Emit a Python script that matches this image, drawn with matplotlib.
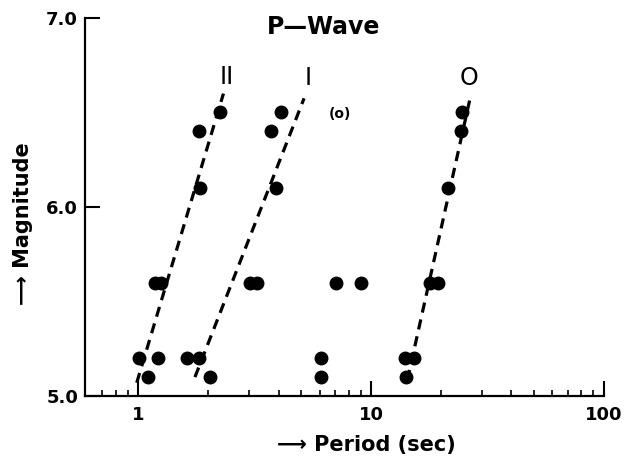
import matplotlib
matplotlib.use("Agg")
import matplotlib.pyplot as plt
from matplotlib.ticker import FixedLocator, NullFormatter

plt.rcParams['font.family'] = ['DejaVu Sans']

# magnitude levels
# group II (left line)
x_ii = [2.24, 1.83, 1.84, 1.18, 1.25, 1.01, 1.21, 1.10]
y_ii = [6.5, 6.4, 6.1, 5.6, 5.6, 5.2, 5.2, 5.1]
# group I (middle line)
x_i = [4.10, 3.71, 3.91, 3.02, 3.24, 1.61, 1.83, 2.03]
y_i = [6.5, 6.4, 6.1, 5.6, 5.6, 5.2, 5.2, 5.1]
# scattered points between I and O
x_mid = [6.08, 6.08, 7.07, 9.06]
y_mid = [5.2, 5.1, 5.6, 5.6]
# group O (right line)
x_o = [24.5, 24.3, 21.4, 17.9, 19.4, 14.0, 15.3, 14.1]
y_o = [6.5, 6.4, 6.1, 5.6, 5.6, 5.2, 5.2, 5.1]

# dashed fit lines (end points)
line_ii_x = [0.984, 2.32]
line_ii_y = [5.07, 6.60]
line_i_x = [1.75, 5.15]
line_i_y = [5.10, 6.575]
line_o_x = [14.3, 26.6]
line_o_y = [5.085, 6.575]

line_names = ['II', 'I', 'O']
name_x = [2.40, 5.38, 26.2]
name_y = [6.69, 6.68, 6.68]

fig = plt.figure(figsize=(6.26, 4.73), dpi=100)
ax = fig.add_axes([85 / 626, 77 / 473, 519 / 626, 378 / 473])
ax.set_xscale('log')
ax.set_xlim(0.59, 100)
ax.set_ylim(5.0, 7.0)

for lx, ly in [(line_ii_x, line_ii_y), (line_i_x, line_i_y), (line_o_x, line_o_y)]:
    ax.plot(lx, ly, color='black', lw=2.3, dashes=(3.2, 2.2), solid_capstyle='butt')

for xs, ys in [(x_ii, y_ii), (x_i, y_i), (x_mid, y_mid), (x_o, y_o)]:
    ax.plot(xs, ys, 'o', color='black', ms=9, ls='none', clip_on=False)

for name, nx, ny in zip(line_names, name_x, name_y):
    ax.text(nx, ny, name, fontsize=17, ha='center', va='center')
ax.text(7.36, 6.49, '(o)', fontsize=10, fontweight='bold', ha='center', va='center')

ax.text(0.46, 0.975, 'P\u2014Wave', transform=ax.transAxes, fontsize=17,
        fontweight='bold', ha='center', va='center')

ax.spines['top'].set_visible(False)
ax.spines['right'].set_visible(False)
ax.spines['left'].set_linewidth(1.6)
ax.spines['bottom'].set_linewidth(1.6)

ax.set_yticks([5.0, 6.0, 7.0])
ax.set_yticklabels(['5.0', '6.0', '7.0'], fontsize=13, fontweight='bold')
ax.tick_params(axis='y', direction='in', length=11, width=1.5, pad=5)

ax.xaxis.set_major_locator(FixedLocator([1, 10, 100]))
ax.set_xticklabels(['1', '10', '100'], fontsize=13, fontweight='bold')
minors = [0.7, 0.8, 0.9] + list(range(2, 10)) + list(range(20, 100, 10))
ax.xaxis.set_minor_locator(FixedLocator(minors))
ax.xaxis.set_minor_formatter(NullFormatter())
ax.tick_params(axis='x', which='major', direction='in', length=11, width=1.5, pad=7)
ax.tick_params(axis='x', which='minor', direction='in', length=4, width=1.2)

ax.set_xlabel('\u27f6 Period (sec)', fontsize=15, fontweight='bold', va='center')
ax.xaxis.set_label_coords((366 - 85) / 519, (396 - 445) / 378)
ax.set_ylabel('\u27f6 Magnitude', fontsize=15, fontweight='bold', va='center')
ax.yaxis.set_label_coords((23 - 85) / 519, (396 - 224) / 378)

plt.savefig('out.png', dpi=100)
